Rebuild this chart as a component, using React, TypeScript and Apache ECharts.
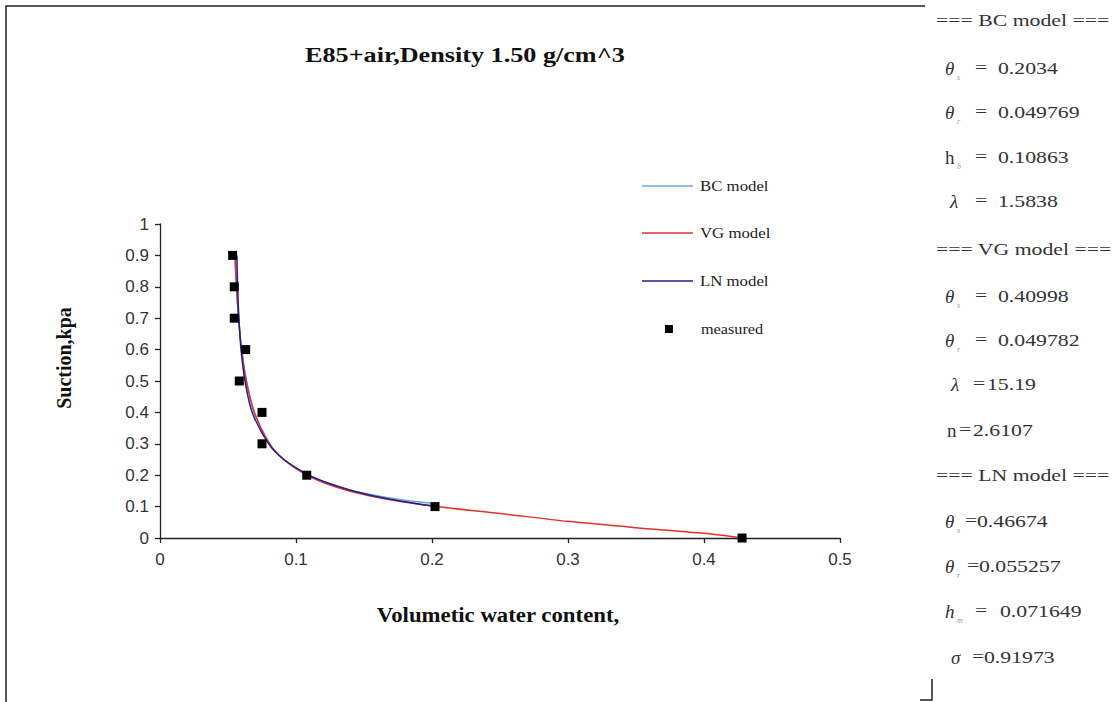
import React, { useEffect, useRef } from "react";
import * as echarts from "echarts";

// ---- data ----
const measuredTheta = [0.428, 0.2022, 0.1079, 0.075, 0.075, 0.0583, 0.063, 0.0546, 0.0546, 0.0534];
const measuredSuction = [0, 0.1, 0.2, 0.3, 0.4, 0.5, 0.6, 0.7, 0.8, 0.9];

const bcSuction = [0.9, 0.8, 0.7, 0.6, 0.5, 0.4, 0.3, 0.25, 0.2, 0.175, 0.15, 0.125, 0.1086];
const bcTheta = [0.0552, 0.0563, 0.0578, 0.06, 0.0635, 0.0693, 0.0805, 0.0908, 0.1082, 0.122, 0.142, 0.1728, 0.2034];

const vgSuction = [0.9, 0.8, 0.7, 0.6, 0.5, 0.4, 0.3, 0.25, 0.2, 0.175, 0.15, 0.125, 0.1, 0.078, 0.053, 0.033, 0.015, 0];
const vgTheta = [0.0551, 0.0562, 0.0578, 0.06, 0.0635, 0.0694, 0.0807, 0.091, 0.108, 0.121, 0.1391, 0.1651, 0.2035, 0.25, 0.3, 0.35, 0.4, 0.428];

const lnSuction = [0.9, 0.8, 0.7, 0.6, 0.5, 0.4, 0.3, 0.25, 0.2, 0.175, 0.15, 0.125, 0.1];
const lnTheta = [0.0565, 0.0571, 0.058, 0.0596, 0.0625, 0.0678, 0.0799, 0.0912, 0.1096, 0.1235, 0.1421, 0.1674, 0.2028];

const xTickLabels = ["0", "0.1", "0.2", "0.3", "0.4", "0.5"];
const yTickLabels = ["0", "0.1", "0.2", "0.3", "0.4", "0.5", "0.6", "0.7", "0.8", "0.9", "1"];

const seriesNames = ["BC model", "VG model", "LN model", "measured"];
const seriesColors = ["#6fa8dc", "#e0332e", "#1f1f8f", "#000000"];

const titleText = "E85+air,Density 1.50 g/cm^3";
const xTitle = "Volumetic water content,";
const yTitle = "Suction,kpa";

// right-hand parameter panel
const panelHeaders = ["=== BC model ===", "=== VG model ===", "=== LN model ==="];
const panelSymbols = ["θ", "θ", "h", "λ", "θ", "θ", "λ", "n", "θ", "θ", "h", "σ"];
const panelSubs = ["s", "r", "b", "", "s", "r", "", "", "s", "r", "m", ""];
const panelEq = ["=", "=", "=", "=", "=", "=", "=", "=", "=", "=", "=", "="];
const panelValues = ["0.2034", "0.049769", "0.10863", "1.5838", "0.40998", "0.049782", "15.19", "2.6107", "0.46674", "0.055257", "0.071649", "0.91973"];

const pair = (xs: number[], ys: number[]) => xs.map((x, i) => [x, ys[i]]);

const SERIF = "'Liberation Serif', 'Times New Roman', serif";
const SANS = "'Liberation Sans', Arial, sans-serif";

function txt(text: string, x: number, y: number, o: any = {}) {
  return {
    type: "text",
    x,
    y,
    scaleX: o.scaleX ?? 1,
    rotation: o.rotation ?? 0,
    silent: true,
    style: {
      text,
      x: 0,
      y: 0,
      fill: o.fill ?? "#222",
      fontSize: o.fontSize ?? 17,
      fontFamily: o.fontFamily ?? SERIF,
      fontWeight: o.fontWeight ?? "normal",
      fontStyle: o.fontStyle ?? "normal",
      textAlign: o.align ?? "left",
      align: o.align ?? "left",
      textVerticalAlign: "middle",
      verticalAlign: "middle",
    },
  };
}

export default function App() {
  const ref = useRef<HTMLDivElement>(null);

  useEffect(() => {
    if (!ref.current) return;
    const chart = echarts.init(ref.current, undefined, { renderer: "svg" });

    const graphics: any[] = [];
    // outer frame
    graphics.push({
      type: "polyline",
      silent: true,
      shape: { points: [[6, 702], [6, 6], [925, 6]] },
      style: { stroke: "#222", lineWidth: 1.5, fill: null },
    });
    graphics.push({
      type: "polyline",
      silent: true,
      shape: { points: [[920, 700], [932, 700], [932, 679]] },
      style: { stroke: "#222", lineWidth: 1.5, fill: null },
    });

    // titles
    graphics.push(txt(titleText, 465, 54, { fontSize: 22, fontWeight: "bold", align: "center", scaleX: 1.19, fill: "#111" }));
    graphics.push(txt(xTitle, 498, 615, { fontSize: 20, fontWeight: "bold", align: "center", scaleX: 1.14, fill: "#111" }));
    graphics.push(txt(yTitle, 64, 358, { fontSize: 20, fontWeight: "bold", align: "center", rotation: Math.PI / 2, fill: "#111" }));

    // legend
    const legendY = [186, 233, 281];
    for (let i = 0; i < 3; i++) {
      graphics.push({
        type: "line",
        silent: true,
        shape: { x1: 642, y1: legendY[i], x2: 693, y2: legendY[i] },
        style: { stroke: seriesColors[i], lineWidth: 1.5 },
      });
      graphics.push(txt(seriesNames[i], 700, legendY[i], { fontSize: 15, scaleX: 1.12 }));
    }
    graphics.push({
      type: "rect",
      silent: true,
      shape: { x: 665, y: 325, width: 8, height: 8 },
      style: { fill: "#000" },
    });
    graphics.push(txt(seriesNames[3], 701, 329, { fontSize: 14.5, scaleX: 1.12 }));

    // parameter panel
    const P = { fontSize: 17, scaleX: 1.28, fill: "#333" };
    const headerY = [20, 249, 475];
    headerY.forEach((y, i) => graphics.push(txt(panelHeaders[i], 936, y, P)));
    const rowY = [68, 112, 157, 201, 296, 340, 384, 430, 521, 566, 611, 657];
    const symX = [945, 945, 945, 950, 945, 945, 951, 947, 945, 945, 945, 951];
    const eqX = [975, 975, 975, 975, 975, 975, 973, 959, 965, 967, 975, 972];
    const valX = [998, 998, 998, 998, 998, 998, 987, 973, 977, 979, 1000, 984];
    for (let i = 0; i < rowY.length; i++) {
      const s = panelSymbols[i];
      const italic = s !== "n" && !(s === "h" && i === 2);
      graphics.push(txt(s, symX[i], rowY[i], { fontSize: 19, fontStyle: italic ? "italic" : "normal", fill: "#333" }));
      if (panelSubs[i]) {
        graphics.push(txt(panelSubs[i], symX[i] + 12, rowY[i] + 9, { fontSize: 8, fontStyle: "italic", fill: "#999" }));
      }
      graphics.push(txt(panelEq[i], eqX[i], rowY[i] - 1, P));
      graphics.push(txt(panelValues[i], valX[i], rowY[i], P));
    }

    const axisCommon = {
      type: "value",
      axisLine: { show: true, lineStyle: { color: "#222", width: 1.3 } },
      axisTick: { show: true, inside: false, length: 5, lineStyle: { color: "#222", width: 1.3 } },
      splitLine: { show: false },
    };

    chart.setOption({
      animation: false,
      backgroundColor: "#fff",
      grid: { left: 160, top: 224, width: 680, height: 314 },
      xAxis: {
        ...axisCommon,
        min: 0,
        max: 0.5,
        interval: 0.1,
        axisLabel: {
          fontSize: 17,
          fontFamily: SANS,
          color: "#333",
          margin: 13,
          formatter: (_v: number, idx: number) => xTickLabels[idx],
        },
      },
      yAxis: {
        ...axisCommon,
        min: 0,
        max: 1,
        interval: 0.1,
        axisLabel: {
          fontSize: 17,
          fontFamily: SANS,
          color: "#333",
          margin: 11,
          formatter: (_v: number, idx: number) => yTickLabels[idx],
        },
      },
      series: [
        {
          name: seriesNames[0],
          type: "line",
          data: pair(bcTheta, bcSuction),
          showSymbol: false,
          smooth: 0.3,
          lineStyle: { color: seriesColors[0], width: 1.5 },
          itemStyle: { color: seriesColors[0] },
        },
        {
          name: seriesNames[1],
          type: "line",
          data: pair(vgTheta, vgSuction),
          showSymbol: false,
          smooth: 0.3,
          lineStyle: { color: seriesColors[1], width: 1.5 },
          itemStyle: { color: seriesColors[1] },
        },
        {
          name: seriesNames[2],
          type: "line",
          data: pair(lnTheta, lnSuction),
          showSymbol: false,
          smooth: 0.3,
          lineStyle: { color: seriesColors[2], width: 1.5 },
          itemStyle: { color: seriesColors[2] },
        },
        {
          name: seriesNames[3],
          type: "scatter",
          data: pair(measuredTheta, measuredSuction),
          symbol: "rect",
          symbolSize: 9,
          itemStyle: { color: seriesColors[3], opacity: 1 },
          z: 5,
        },
      ],
      graphic: graphics,
    });

    return () => chart.dispose();
  }, []);

  return (
    <div
      ref={ref}
      style={{ position: "fixed", left: 0, top: 0, width: 1118, height: 702, background: "#fff" }}
    />
  );
}
